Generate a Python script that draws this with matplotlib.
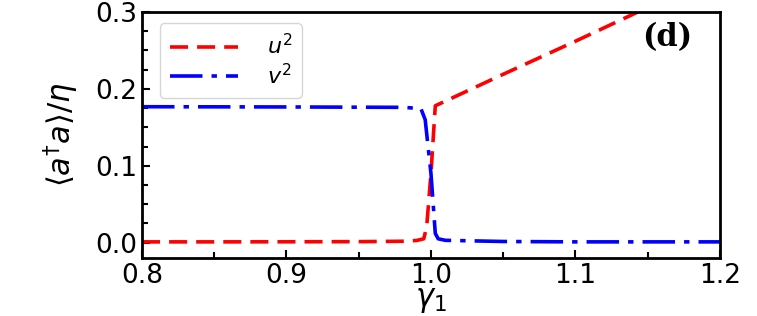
import numpy as np
import matplotlib.pyplot as plt

# gamma_1 sample points and read-off values
gamma_u = [0.80, 0.85, 0.90, 0.95, 0.98, 0.99, 0.995, 0.997, 1.000, 1.003, 1.05, 1.10, 1.15, 1.20]
u2 = [0.001, 0.001, 0.0011, 0.0013, 0.0018, 0.0028, 0.005, 0.02, 0.09, 0.178, 0.219, 0.262, 0.306, 0.350]

gamma_v = [0.80, 0.90, 0.98, 0.993, 0.996, 1.000, 1.003, 1.005, 1.01, 1.05, 1.10, 1.20]
v2 = [0.1768, 0.1765, 0.176, 0.1745, 0.16, 0.09, 0.012, 0.005, 0.003, 0.0015, 0.001, 0.001]

fig = plt.figure(figsize=(7.57, 3.16), dpi=100)
ax = fig.add_axes([0.1876, 0.1835, 0.7634, 0.7785])

ax.plot(gamma_u, u2, color='red', linestyle=(0, (5, 2.5)), linewidth=2.6, label=r'$u^2$')
ax.plot(gamma_v, v2, color='blue', linestyle=(0, (9, 2.5, 1.5, 2.5)), linewidth=2.6, label=r'$v^2$')

ax.set_xlim(0.8, 1.2)
ax.set_ylim(-0.02, 0.3)
ax.set_xticks([0.8, 0.9, 1.0, 1.1, 1.2])
ax.set_yticks([0.0, 0.1, 0.2, 0.3])
ax.set_xticks(np.arange(0.85, 1.2, 0.1), minor=True)
ax.set_yticks(np.arange(0.025, 0.3, 0.025), minor=True)
ax.tick_params(which='both', direction='in', labelsize=19, width=1.5)
ax.tick_params(which='major', length=6)
ax.tick_params(which='minor', length=4)
for s in ax.spines.values():
    s.set_linewidth(2)

ax.set_xlabel(r'$\gamma_1$', fontsize=22, labelpad=-2)
ax.set_ylabel(r'$\langle a^{\dagger}a\rangle/\eta$', fontsize=22, labelpad=10)

ax.legend(loc='upper left', fontsize=16, handlelength=3.05, handletextpad=1.3,
          labelspacing=0.2, borderpad=0.45, borderaxespad=0.0,
          bbox_to_anchor=(0.031, 0.955))
ax.text(0.952, 0.898, '(d)', transform=ax.transAxes, ha='right', va='center',
        fontsize=22, fontweight='bold', family='DejaVu Serif')

plt.savefig('out.png', dpi=100)
